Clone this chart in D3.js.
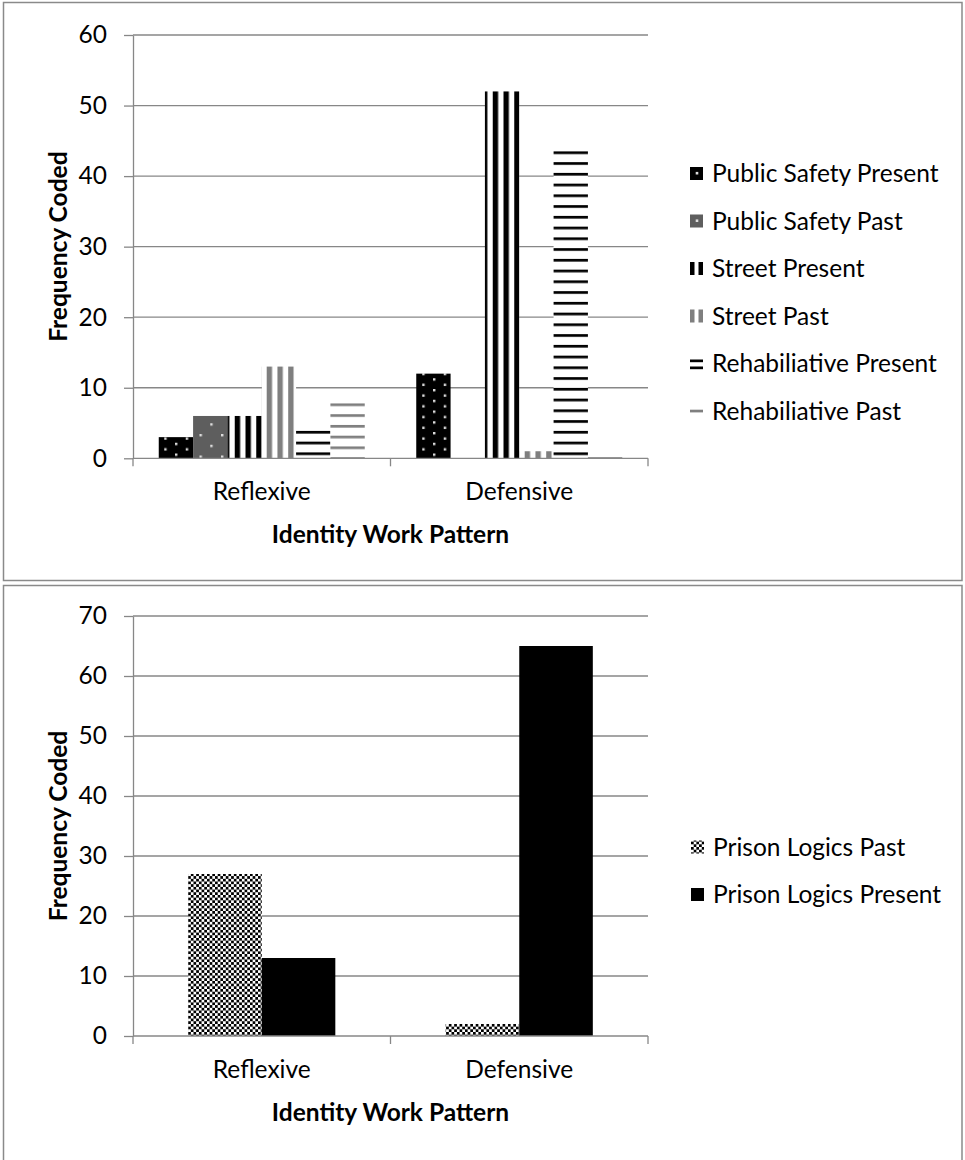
<!DOCTYPE html>
<html><head><meta charset="utf-8">
<script src="https://cdn.jsdelivr.net/npm/d3@7"></script>
<style>
body{margin:0;background:#fff}
svg{display:block}
text{font-family:Lato,"Open Sans",sans-serif;fill:#000}
</style>
</head><body>
<svg id="c" width="965" height="1160"></svg>
<script>
// ---------- data ----------
const categories = ["Reflexive", "Defensive"];
const topSeries = ["Public Safety Present", "Public Safety Past", "Street Present", "Street Past", "Rehabiliative Present", "Rehabiliative Past"];
const publicSafetyPresent = [3, 12];
const publicSafetyPast = [6, 0];
const streetPresent = [6, 52];
const streetPast = [13, 1];
const rehabPresent = [4, 44];
const rehabPast = [8, 0.3];
const topTicks = [0, 10, 20, 30, 40, 50, 60];

const bottomSeries = ["Prison Logics Past", "Prison Logics Present"];
const prisonPast = [27, 2];
const prisonPresent = [13, 65];
const bottomTicks = [0, 10, 20, 30, 40, 50, 60, 70];

const xTitle = "Identity Work Pattern";
const yTitle = "Frequency Coded";

// ---------- setup ----------
const svg = d3.select("#c");
const defs = svg.append("defs");
const P = 10.75;
const FS = 24.5;
const GRID = "#878787";

function pat(id, w, h, tx, ty) {
  return defs.append("pattern").attr("id", id).attr("patternUnits", "userSpaceOnUse")
    .attr("width", w).attr("height", h)
    .attr("patternTransform", `translate(${tx},${ty})`);
}
// Public Safety Present: white 10% dots on black
let p = pat("psPres", 2 * P, P, 3, 2);
p.append("rect").attr("width", 2 * P).attr("height", P).attr("fill", "#000");
[[0, 0], [P, P / 2]].forEach(([x, y]) => p.append("rect").attr("x", x).attr("y", y).attr("width", 2.4).attr("height", 2.4).attr("fill", "#ddd"));
// Public Safety Past: white 5% dots on dark grey
p = pat("psPast", 2 * P, 2 * P, 6, 4);
p.append("rect").attr("width", 2 * P).attr("height", 2 * P).attr("fill", "#5e5e5e");
[[0, 0], [P, P]].forEach(([x, y]) => p.append("rect").attr("x", x).attr("y", y).attr("width", 2.4).attr("height", 2.4).attr("fill", "#ddd"));
// Street Present: dark vertical stripes
p = pat("stPres", P, P, 9, 0);
p.append("rect").attr("width", P).attr("height", P).attr("fill", "#fff");
p.append("rect").attr("width", P / 2).attr("height", P).attr("fill", "#000");
// Street Past: grey vertical stripes
p = pat("stPast", P, P, 8.7, 0);
p.append("rect").attr("width", P).attr("height", P).attr("fill", "#fff");
p.append("rect").attr("width", P / 2).attr("height", P).attr("fill", "#7f7f7f");
// Rehab Present: horizontal black lines
p = pat("rhPres", P, P, 0, 0.9);
p.append("rect").attr("width", P).attr("height", P).attr("fill", "#fff");
p.append("rect").attr("width", P).attr("height", P / 4).attr("fill", "#000");
// Rehab Past: horizontal grey lines
p = pat("rhPast", P, P, 0, 5.7);
p.append("rect").attr("width", P).attr("height", P).attr("fill", "#fff");
p.append("rect").attr("width", P).attr("height", P / 4).attr("fill", "#7f7f7f");
// Prison Logics Past: small checkerboard
const c = P / 4;
p = pat("plPast", 2 * c, 2 * c, 0, 0);
p.append("rect").attr("width", 2 * c).attr("height", 2 * c).attr("fill", "#fff");
p.append("rect").attr("width", c).attr("height", c).attr("fill", "#000");
p.append("rect").attr("x", c).attr("y", c).attr("width", c).attr("height", c).attr("fill", "#000");

const topFills = ["url(#psPres)", "url(#psPast)", "url(#stPres)", "url(#stPast)", "url(#rhPres)", "url(#rhPast)"];
const bottomFills = ["url(#plPast)", "#000"];

// ---------- chart builder ----------
function chart(cfg) {
  const g = svg.append("g");
  // outer frame
  g.append("rect").attr("x", 3.5).attr("y", cfg.boxTop).attr("width", 958.5).attr("height", cfg.boxH)
    .attr("fill", "#fff").attr("stroke", "#8a8a8a").attr("stroke-width", 1.5);

  const x0 = 133, x1 = 648;
  const x = d3.scaleBand().domain(categories).range([x0, x1]).paddingInner(0).paddingOuter(0);
  const xs = d3.scaleBand().domain(cfg.series).range([0, x.bandwidth()]).paddingInner(0).paddingOuter(0.75);
  const y = d3.scaleLinear().domain(cfg.domain).range([cfg.yBottom, cfg.yTop]);

  // gridlines
  g.append("g").selectAll("line").data(cfg.ticks.filter(t => t > 0)).join("line")
    .attr("x1", x0).attr("x2", x1).attr("y1", d => y(d)).attr("y2", d => y(d))
    .attr("stroke", GRID).attr("stroke-width", 1.3);

  // bars
  cfg.series.forEach((s, i) => {
    g.append("g").selectAll("rect").data(cfg.values[i]).join("rect")
      .attr("x", (d, j) => x(categories[j]) + xs(s))
      .attr("width", xs.bandwidth())
      .attr("y", d => y(d))
      .attr("height", d => y(0) - y(d))
      .attr("fill", cfg.fills[i]);
  });

  // y axis
  const ya = g.append("g").attr("transform", `translate(${x0},0)`)
    .call(d3.axisLeft(y).tickValues(cfg.ticks).tickSize(9).tickSizeOuter(0).tickPadding(17).tickFormat(d3.format("d")));
  ya.select(".domain").attr("stroke", GRID).attr("stroke-width", 1.3);
  ya.selectAll(".tick line").attr("stroke", GRID).attr("stroke-width", 1.3);
  ya.selectAll(".tick text").attr("font-size", FS).attr("font-family", "Lato").attr("fill", "#000");

  // x axis
  g.append("line").attr("x1", x0).attr("x2", x1).attr("y1", y(0)).attr("y2", y(0))
    .attr("stroke", GRID).attr("stroke-width", 1.3);
  const bounds = [x0].concat(categories.map(cc => x(cc) + x.bandwidth()));
  g.append("g").selectAll("line").data(bounds).join("line")
    .attr("x1", d => d).attr("x2", d => d).attr("y1", y(0)).attr("y2", y(0) + 8)
    .attr("stroke", GRID).attr("stroke-width", 1.3);
  g.append("g").selectAll("text").data(categories).join("text")
    .attr("x", d => x(d) + x.bandwidth() / 2).attr("y", y(0) + 33)
    .attr("dy", "0.35em").attr("text-anchor", "middle").attr("font-size", FS).text(d => d);

  // titles
  g.append("text").attr("x", (x0 + x1) / 2).attr("y", y(0) + 76).attr("dy", "0.35em")
    .attr("text-anchor", "middle").attr("font-size", FS).attr("font-weight", "bold").text(xTitle);
  g.append("text").attr("transform", `translate(58,${(cfg.yTop + cfg.yBottom) / 2}) rotate(-90)`)
    .attr("dy", "0.35em").attr("text-anchor", "middle").attr("font-size", FS).attr("font-weight", "bold").text(yTitle);

  // legend
  const lg = g.append("g").selectAll("g").data(cfg.series).join("g")
    .attr("transform", (d, i) => `translate(${cfg.legX},${cfg.legY + i * 47.5})`);
  lg.each(function (d, i) { cfg.swatch[i](d3.select(this)); });
  lg.append("text").attr("x", cfg.legX2 - cfg.legX).attr("y", 0).attr("dy", "0.35em")
    .attr("font-size", FS).text(d => d);
}

const S = 13;
function sq(sel, fill) { sel.append("rect").attr("x", 0).attr("y", -S / 2).attr("width", S).attr("height", S).attr("fill", fill); }
function dot(sel) { sel.append("rect").attr("x", S / 2 - 0.8).attr("y", -1.6).attr("width", 2.6).attr("height", 2.6).attr("fill", "#ddd"); }
function vbars(sel, fill) {
  sel.append("rect").attr("x", 0).attr("y", -S / 2).attr("width", 4.5).attr("height", S).attr("fill", fill);
  sel.append("rect").attr("x", 8.5).attr("y", -S / 2).attr("width", 4.5).attr("height", S).attr("fill", fill);
}
function hline(sel, fill, yy) { sel.append("rect").attr("x", 0).attr("y", yy).attr("width", S).attr("height", 2.7).attr("fill", fill); }

chart({
  boxTop: 2.5, boxH: 578,
  yTop: 35, yBottom: 458.3, domain: [0, 60], ticks: topTicks,
  series: topSeries,
  values: [publicSafetyPresent, publicSafetyPast, streetPresent, streetPast, rehabPresent, rehabPast],
  fills: topFills,
  legX: 690, legX2: 712, legY: 173.5,
  swatch: [
    s => { sq(s, "#000"); dot(s); },
    s => { sq(s, "#5e5e5e"); dot(s); },
    s => vbars(s, "#000"),
    s => vbars(s, "#7f7f7f"),
    s => { hline(s, "#000", -4); hline(s, "#000", 3); },
    s => hline(s, "#7f7f7f", -1.3)
  ]
});

chart({
  boxTop: 585.5, boxH: 580,
  yTop: 616, yBottom: 1036, domain: [0, 70], ticks: bottomTicks,
  series: bottomSeries,
  values: [prisonPast, prisonPresent],
  fills: bottomFills,
  legX: 691, legX2: 713, legY: 847,
  swatch: [
    s => s.append("rect").attr("x", 0).attr("y", -S / 2).attr("width", S).attr("height", S).attr("fill", "url(#plPast)"),
    s => sq(s, "#000")
  ]
});
</script>
</body></html>
